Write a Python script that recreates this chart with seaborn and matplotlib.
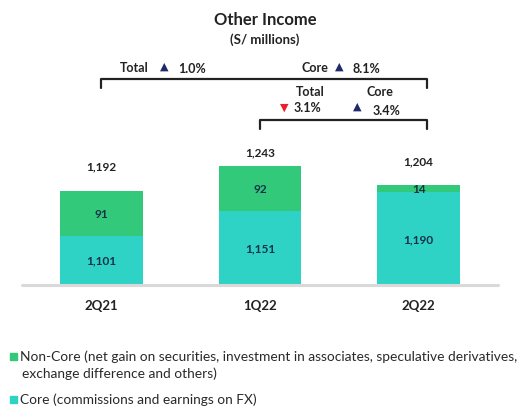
import matplotlib
matplotlib.use("Agg")
import matplotlib.pyplot as plt
import matplotlib.patches as mpatches
import seaborn as sns
import pandas as pd

# ---- data ----
categories = ["2Q21", "1Q22", "2Q22"]
core = [1101, 1151, 1190]
non_core = [91, 92, 14]
totals = [1192, 1243, 1204]
core_labels = ["1,101", "1,151", "1,190"]
non_core_labels = ["91", "92", "14"]
total_labels = ["1,192", "1,243", "1,204"]
legend_labels = [
    "Non-Core (net gain on securities, investment in associates, speculative derivatives,\nexchange difference and others)",
    "Core (commissions and earnings on FX)",
]

sns.set_theme(style="white")
plt.rcParams["font.family"] = ["Lato", "DejaVu Sans"]

W, H = 531, 410
fig = plt.figure(figsize=(W / 100, H / 100), dpi=100)

def fx(x):
    return x / W

def fy(y):
    return 1 - y / H

base_px, top_px = 286, 140
ax = fig.add_axes([fx(22), fy(base_px), fx(498) - fx(22), (base_px - top_px) / H])

GREEN = "#33C97A"
CYAN = "#2ED3C6"
NAVY = "#1F2A6B"

df = pd.DataFrame({"cat": categories, "core": core, "non_core": non_core, "total": totals})
sns.barplot(data=df, x="cat", y="total", order=categories, color=GREEN, width=0.52,
            saturation=1, linewidth=0, ax=ax)
sns.barplot(data=df, x="cat", y="core", order=categories, color=CYAN, width=0.52,
            saturation=1, linewidth=0, ax=ax)

ymin = 1000
ymax = ymin + (base_px - top_px) / 0.49
ax.set_ylim(ymin, ymax)
ax.set_xlim(-0.5, 2.5)
for s in ax.spines.values():
    s.set_visible(False)
ax.axhline(ymin, color="#D9D9D9", lw=2.2, clip_on=False, zorder=5)
ax.set_yticks([])
ax.set_xlabel("")
ax.set_ylabel("")
ax.tick_params(axis="x", length=0, pad=10)
for tl in ax.get_xticklabels():
    tl.set_fontweight("bold")
    tl.set_fontsize(9.5)
    tl.set_color("#222222")

lab_col = "#16324A"
total_off = [25, 14, 24]
for i in range(len(categories)):
    c0 = max(ymin, 0)
    ax.text(i, (c0 + core[i]) / 2, core_labels[i], ha="center", va="center",
            fontsize=8.5, fontweight="bold", color=lab_col)
    ax.text(i, core[i] + non_core[i] / 2, non_core_labels[i], ha="center", va="center",
            fontsize=8.5, fontweight="bold", color=lab_col)
    ax.annotate(total_labels[i], (i, totals[i]), xytext=(0, total_off[i]),
                textcoords="offset pixels", ha="center", va="center",
                fontsize=8.5, fontweight="bold", color="#222222")

# Title
fig.text(fx(265), fy(20), "Other Income", ha="center", va="center", fontsize=12,
         fontweight="bold", color="#222222")
fig.text(fx(265), fy(40), "(S/ millions)", ha="center", va="center", fontsize=9.5,
         fontweight="bold", color="#222222")

# Brackets
def bracket(x0, x1, y, drop):
    fig.add_artist(plt.Line2D([fx(x0), fx(x0), fx(x1), fx(x1)],
                              [fy(y + drop), fy(y), fy(y), fy(y + drop)],
                              color="#222222", lw=1.6, transform=fig.transFigure))

bracket(101, 427, 80, 9)
bracket(260, 427, 121, 9)

def t(x, y, s, color="#222222", size=9):
    fig.text(fx(x), fy(y), s, ha="center", va="center", fontsize=size,
             fontweight="bold", color=color)

tri_kw = dict(family=["DejaVu Sans"])
t(134, 68, "Total")
fig.text(fx(164), fy(67), "▲", ha="center", va="center", fontsize=8, color=NAVY, **tri_kw)
t(192, 69, "1.0%")
t(315, 68, "Core")
fig.text(fx(339), fy(67), "▲", ha="center", va="center", fontsize=8, color=NAVY, **tri_kw)
t(366, 69, "8.1%")
t(310, 92, "Total")
fig.text(fx(284), fy(108), "▼", ha="center", va="center", fontsize=8, color="#E8202A", **tri_kw)
t(307, 108, "3.1%")
t(380, 92, "Core")
fig.text(fx(357), fy(107), "▲", ha="center", va="center", fontsize=8, color=NAVY, **tri_kw)
t(387, 111, "3.4%")

# Legend
for (y, col, lab) in [(357, GREEN, legend_labels[0]), (400, CYAN, legend_labels[1])]:
    fig.add_artist(mpatches.Rectangle((fx(10), fy(y + 3.5)), 7 / W, 7 / H,
                                      transform=fig.transFigure, color=col))
    lines = lab.split("\n")
    for k, ln in enumerate(lines):
        fig.text(fx(20 if k == 0 else 22), fy(y + 17 * k), ln, ha="left", va="center",
                 fontsize=9.9, color="#2A2A2A")

fig.savefig("out.png", dpi=100)
